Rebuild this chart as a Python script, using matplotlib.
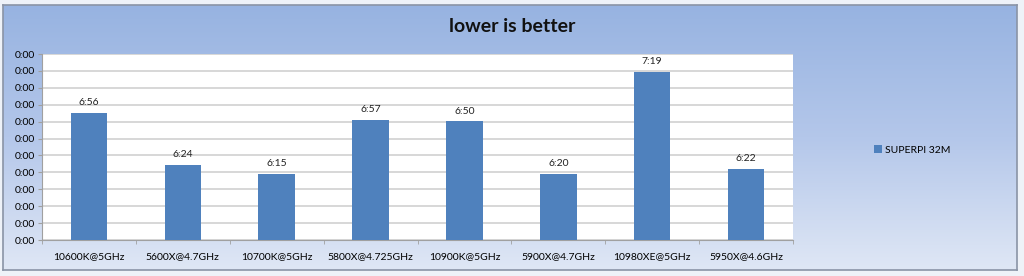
import numpy as np
import matplotlib.pyplot as plt
from matplotlib.patches import Rectangle
from matplotlib.colors import LinearSegmentedColormap

# data
cpus = ['10600K@5GHz', '5600X@4.7GHz', '10700K@5GHz', '5800X@4.725GHz',
        '10900K@5GHz', '5900X@4.7GHz', '10980XE@5GHz', '5950X@4.6GHz']
times = ['6:56', '6:24', '6:15', '6:57', '6:50', '6:20', '7:19', '6:22']
# bar heights in gridline steps (axis has 11 steps, every label shows 0:00)
heights = [7.51, 4.43, 3.90, 7.10, 7.01, 3.90, 9.93, 4.20]
y_ticks = list(range(12))
y_labels = ['0:00'] * len(y_ticks)
series_name = 'SUPERPI 32M'

plt.rcParams['font.family'] = ['Lato', 'DejaVu Sans']

fig = plt.figure(figsize=(10.24, 2.76), dpi=100, facecolor='#eef2f8')

# gradient chart background
bg = fig.add_axes([3/1024, 1 - 270/276, 1014/1024, 265/276])
grad = LinearSegmentedColormap.from_list('bg', ['#97b3e1', '#b4c7ea', '#dfe7f5'])
bg.imshow(np.linspace(0, 1, 256).reshape(-1, 1), aspect='auto', cmap=grad,
          extent=[0, 1, 0, 1])
bg.set_xlim(0, 1)
bg.set_ylim(0, 1)
for s in bg.spines.values():
    s.set_color('#8a94a6')
    s.set_linewidth(1.2)
bg.set_xticks([])
bg.set_yticks([])

ax = fig.add_axes([42/1024, 1 - 240/276, (793 - 42)/1024, (240 - 54)/276])
ax.set_facecolor('white')

x = np.arange(len(cpus))
bars = ax.bar(x, heights, width=0.39, color='#4f81bd', label=series_name, zorder=3)

for xi, h, t in zip(x, heights, times):
    ax.text(xi, h + 0.35, t, ha='center', va='bottom', fontsize=7.5, color='#222222')

ax.set_xlim(-0.5, len(cpus) - 0.5)
ax.set_ylim(0, 11)
ax.set_yticks(y_ticks)
ax.set_yticklabels(y_labels, fontsize=7.5)
ax.set_xticks(x)
ax.set_xticklabels(cpus, fontsize=7.5)
ax.set_xticks(np.arange(len(cpus) + 1) - 0.5, minor=True)
ax.tick_params(axis='x', which='major', length=0, pad=9)
ax.tick_params(axis='x', which='minor', length=3, color='#a0a0a0')
ax.tick_params(axis='y', length=3, color='#a0a0a0', pad=2)
ax.grid(axis='y', color='#d4d4d4', linewidth=1.3, zorder=0)
for side in ['top', 'right']:
    ax.spines[side].set_visible(False)
for side in ['left', 'bottom']:
    ax.spines[side].set_color('#a0a0a0')

fig.text(0.5, 1 - 26/276, 'lower is better', ha='center', va='center',
         fontsize=14, fontweight='bold', color='#111111')

fig.legend(handles=[bars], labels=[series_name], loc='center left',
           bbox_to_anchor=(865/1024, 1 - 150/276), frameon=False,
           fontsize=7.5, handlelength=0.7, handleheight=0.7, handletextpad=0.3)

fig.savefig('out.png', dpi=100, facecolor=fig.get_facecolor())
